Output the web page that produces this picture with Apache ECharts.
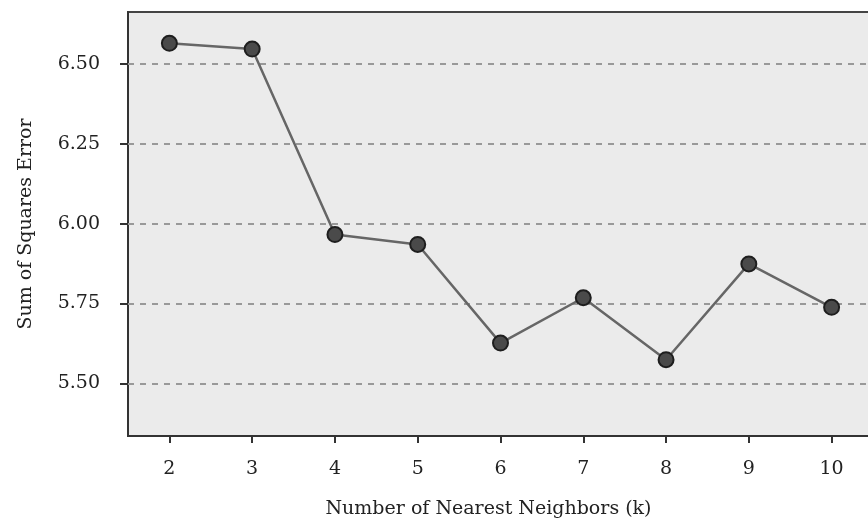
<!DOCTYPE html>
<html>
<head>
<meta charset="utf-8">
<script src="https://cdn.jsdelivr.net/npm/echarts@6/dist/echarts.min.js"></script>
<style>html,body{margin:0;padding:0;background:#fff}#c{width:868px;height:527px}</style>
</head>
<body>
<div id="c"></div>
<script>
const kValues = [2, 3, 4, 5, 6, 7, 8, 9, 10];
const sseValues = [6.565, 6.547, 5.966, 5.935, 5.626, 5.768, 5.574, 5.874, 5.738];
const yTicks = [5.50, 5.75, 6.00, 6.25, 6.50];
const xTitle = 'Number of Nearest Neighbors (k)';
const yTitle = 'Sum of Squares Error';

const FONT = 'DejaVu Serif';
const chart = echarts.init(document.getElementById('c'));
chart.setOption({
  animation: false,
  grid: {
    left: 128, top: 12, right: -5, bottom: 91,
    outerBoundsMode: 'none', containLabel: false,
    show: true, backgroundColor: '#ebebeb', borderColor: '#444', borderWidth: 2
  },
  xAxis: {
    type: 'value', min: 1.5, max: 10.5,
    axisLine: { show: true, lineStyle: { color: '#333', width: 2 } },
    axisTick: { show: true, length: 7, lineStyle: { color: '#333', width: 2 },
      customValues: kValues },
    splitLine: { show: false },
    axisLabel: {
      margin: 24, fontFamily: FONT, fontSize: 19, color: '#222',
      customValues: kValues
    },
    name: xTitle, nameLocation: 'middle', nameGap: 64,
    nameTextStyle: { fontFamily: FONT, fontSize: 19, color: '#222', padding: [0, 24, 0, 0] }
  },
  yAxis: {
    type: 'value', min: 5.335, max: 6.663,
    axisLine: { show: true, onZero: false, lineStyle: { color: '#333', width: 2 } },
    axisTick: { show: true, length: 8, lineStyle: { color: '#333', width: 2 },
      customValues: yTicks },
    axisLabel: {
      margin: 28, fontFamily: FONT, fontSize: 19, color: '#222',
      customValues: yTicks, formatter: v => v.toFixed(2)
    },
    splitLine: { show: false },
    name: yTitle, nameLocation: 'middle', nameGap: 92,
    nameTextStyle: { fontFamily: FONT, fontSize: 19, color: '#222' }
  },
  series: [
    {
      type: 'line',
      data: yTicks.map(v => [1.5, v]),
      markLine: {
        silent: true, symbol: 'none', label: { show: false },
        lineStyle: { color: '#999', width: 2, type: [6, 6] },
        data: yTicks.map(v => ({ yAxis: v }))
      },
      showSymbol: false, lineStyle: { opacity: 0 }
    },
    {
      type: 'line',
      data: kValues.map((k, i) => [k, sseValues[i]]),
      symbol: 'circle', symbolSize: 15,
      lineStyle: { color: '#666', width: 2.5 },
      itemStyle: { color: '#4a4a4a', borderColor: '#1e1e1e', borderWidth: 2 },
      z: 5
    }
  ]
});
</script>
</body>
</html>
